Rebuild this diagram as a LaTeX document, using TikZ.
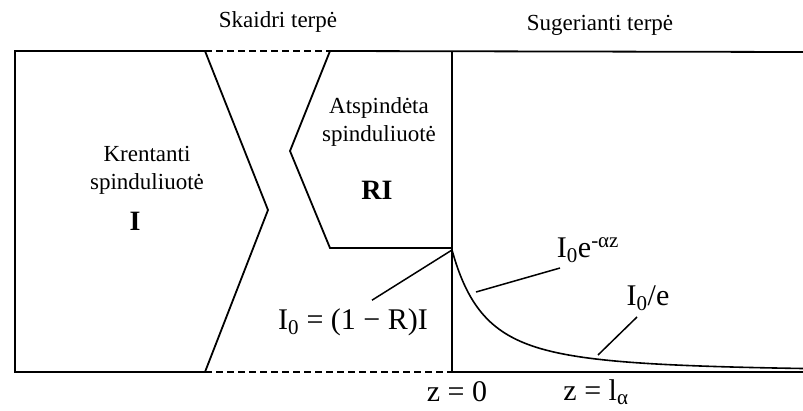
\documentclass[tikz,border=0pt]{standalone}
\usepackage{fontspec}
\setmainfont{Liberation Serif}
\usetikzlibrary{positioning}

\begin{document}
\begin{tikzpicture}[x=1pt,y=-1pt,
 edge/.style={line width=1.8pt,line join=miter},
 gap/.style={line width=1.5pt,dash pattern=on 7pt off 4pt},
 lead/.style={line width=1.5pt},
 lbl/.style={inner sep=0pt,align=center,font=\fontsize{23}{28}\selectfont},
 big/.style={inner sep=0pt,font=\fontsize{30}{34}\selectfont},
 bold/.style={inner sep=0pt,font=\fontsize{28}{32}\selectfont\bfseries}]
 \useasboundingbox (0,0) rectangle (803,410);
 % incident beam
 \draw[edge] (205,51) -- (15,51) -- (15,372) -- (205,372) -- (268,210) -- cycle;
 % reflected beam
 \draw[edge] (803,52) -- (330,51) -- (290,151) -- (330,248) -- (452,248);
 % surface and medium
 \draw[edge] (452,51) -- (452,372);
 \draw[edge] (452,372) -- (803,372);
 \draw[gap] (205,51) -- (330,51);
 \draw[gap] (205,372) -- (452,372);
 \draw[line width=1.6pt,domain=452:803,samples=120,smooth]
  plot (\x,{372-122/((1+(\x-452)/64)^1.9)});
 % labels
 \node[lbl](clear) at (278,22){Skaidri terpė};
 \node[lbl](absorb) at (600,25){Sugerianti terpė};
 \node[lbl](inc) at (147,170){Krentanti\\spinduliuotė};
 \node[bold](incI) at (135,221){I};
 \node[lbl](refl) at (379,122){Atspindėta\\spinduliuotė};
 \node[bold](reflI) at (377,190){RI};
 \node[big](trans) at (353,322){I\textsubscript{0} = (1 − R)I};
 \node[big](decay) at (588,250){I\textsubscript{0}e\textsuperscript{-αz}};
 \node[big](atten) at (648,298){I\textsubscript{0}/e};
 \node[big](zero) at (457,392){z = 0};
 \node[big](depth) at (596,392){z = l\textsubscript{α}};
 % leader lines
 \coordinate (surf) at (452,250);
 \coordinate (crvA) at (476,292);
 \coordinate (crvB) at (598,355);
 \draw[lead] ([xshift=19pt,yshift=8pt]trans.north) -- (surf);
 \draw[lead] ([xshift=-28pt,yshift=-18pt]decay.center) -- (crvA);
 \draw[lead] ([xshift=-11pt,yshift=-19pt]atten.center) -- (crvB);
\end{tikzpicture}
\end{document}
